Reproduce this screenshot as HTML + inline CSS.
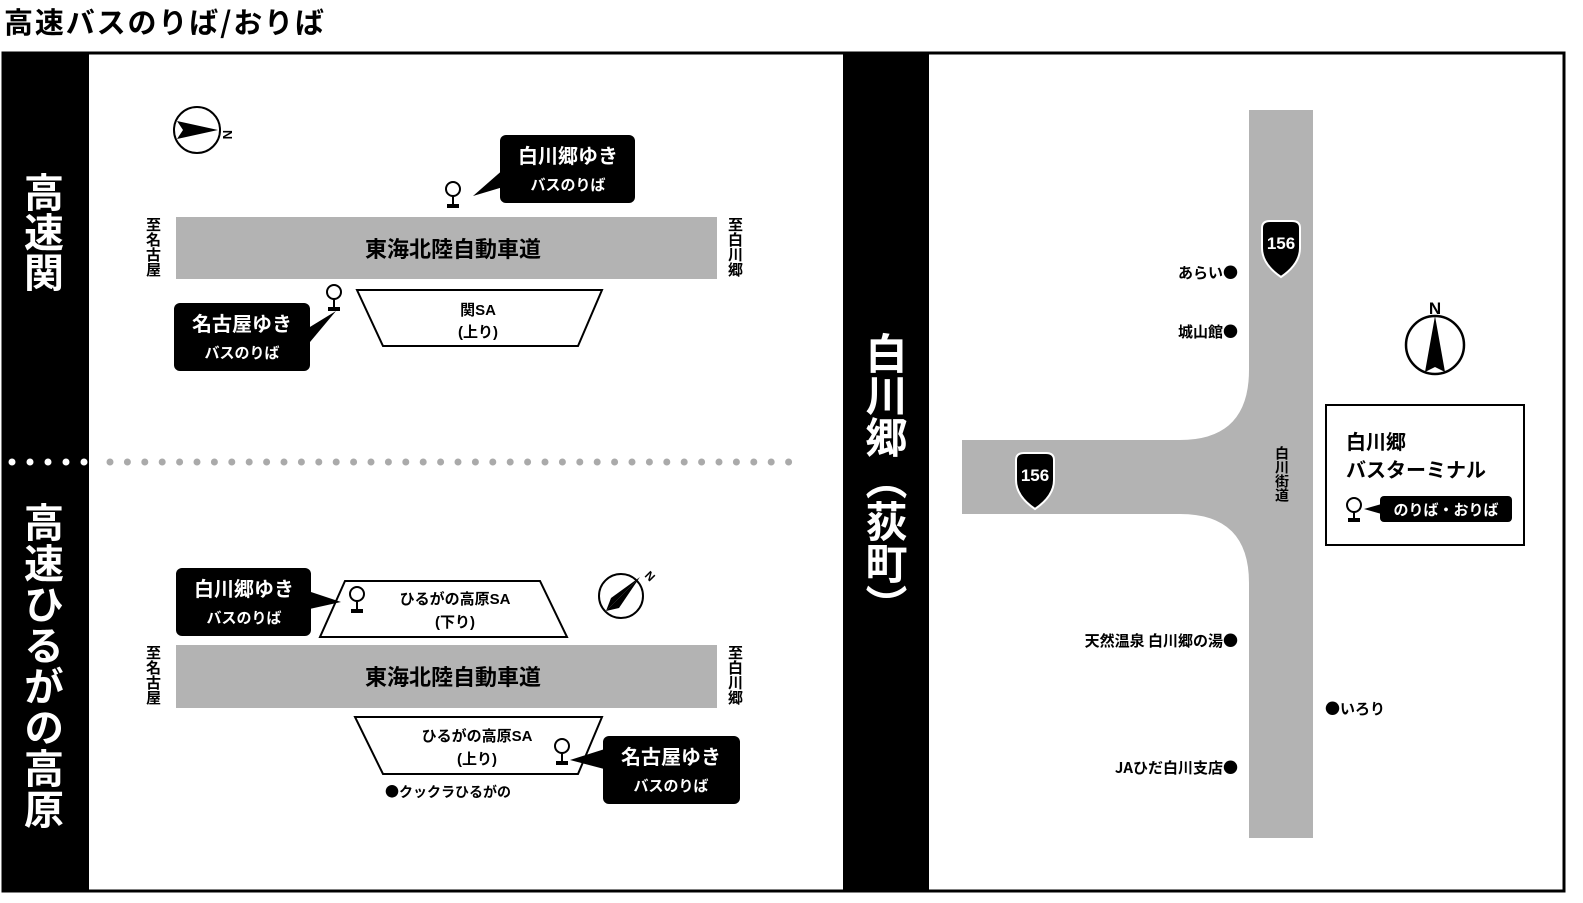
<!DOCTYPE html>
<html><head><meta charset="utf-8"><style>
body{margin:0;background:#fff;width:1583px;height:903px;overflow:hidden;position:relative;font-family:"Liberation Sans","Noto Sans CJK JP",sans-serif;font-weight:bold}
.v{position:absolute;writing-mode:vertical-rl;text-orientation:mixed;font-weight:bold;line-height:1;font-family:"Noto Sans CJK JP",sans-serif}
svg{position:absolute;left:0;top:0}
</style></head><body>
<svg width="1583" height="903" viewBox="0 0 1583 903" font-family="Liberation Sans, Noto Sans CJK JP, sans-serif" font-weight="bold">
<text x="4" y="33" font-size="29" font-family="Noto Sans CJK JP, sans-serif" textLength="320">高速バスのりば/おりば</text>
<rect x="3" y="53" width="1561" height="838" fill="none" stroke="#000" stroke-width="3"/>
<rect x="2" y="52" width="87" height="840" fill="#000"/>
<rect x="843" y="52" width="86" height="840" fill="#000"/>
<g fill="#fff"><circle cx="12" cy="462" r="3.5"/><circle cx="30" cy="462" r="3.5"/><circle cx="48" cy="462" r="3.5"/><circle cx="66" cy="462" r="3.5"/><circle cx="84" cy="462" r="3.5"/></g>
<line x1="110" y1="462" x2="805" y2="462" stroke="#aaa" stroke-width="7" stroke-linecap="round" stroke-dasharray="0 17.4"/>
<!-- upper -->
<rect x="176" y="217" width="541" height="62" fill="#b3b3b3"/>
<text x="453" y="257" font-size="22" text-anchor="middle">東海北陸自動車道</text>
<polygon points="357,290 602,290 578,346 383,346" fill="#fff" stroke="#000" stroke-width="2"/>
<text x="478" y="315" font-size="15" text-anchor="middle">関SA</text>
<text x="478" y="337" font-size="15" text-anchor="middle">(上り)</text>
<circle cx="197" cy="130" r="23" fill="none" stroke="#000" stroke-width="2"/>
<polygon points="177,121 218,130 177,139 183,130" fill="#000"/>
<text x="223" y="130" font-size="13" transform="rotate(90 223 130)">N</text>
<!-- lower -->
<polygon points="345,581 540,581 567,637 320,637" fill="#fff" stroke="#000" stroke-width="2"/>
<text x="455" y="604" font-size="15" text-anchor="middle">ひるがの高原SA</text>
<text x="455" y="627" font-size="15" text-anchor="middle">(下り)</text>
<rect x="176" y="645" width="541" height="63" fill="#b3b3b3"/>
<text x="453" y="685" font-size="22" text-anchor="middle">東海北陸自動車道</text>
<polygon points="355,717 602,717 578,774 383,774" fill="#fff" stroke="#000" stroke-width="2"/>
<text x="477" y="741" font-size="15" text-anchor="middle">ひるがの高原SA</text>
<text x="477" y="764" font-size="15" text-anchor="middle">(上り)</text>
<text x="385" y="797" font-size="14" font-family="Noto Sans CJK JP, sans-serif">●クックラひるがの</text>
<circle cx="621" cy="596" r="22" fill="none" stroke="#000" stroke-width="2"/>
<polygon points="640,577 606,611 619,608" fill="#000"/>
<polygon points="640,577 606,611 611,598" fill="#000"/>
<text x="644" y="576" font-size="12" transform="rotate(45 644 576)">N</text>
<!-- right panel -->
<path d="M1249,110 H1313 V838 H1249 V583 Q1249,514 1180,514 H962 V440 H1180 Q1249,440 1249,370 Z" fill="#b3b3b3"/>
<path d="M1262,228 Q1262,221 1270,221 H1292 Q1300,221 1300,228 V248 Q1300,264 1281,277 Q1262,264 1262,248 Z" fill="#000" stroke="#fff" stroke-width="2"/>
<text x="1281" y="249" font-size="17" fill="#fff" text-anchor="middle">156</text>
<path d="M1016,460 Q1016,453 1024,453 H1046 Q1054,453 1054,460 V480 Q1054,496 1035,509 Q1016,496 1016,480 Z" fill="#000" stroke="#fff" stroke-width="2"/>
<text x="1035" y="481" font-size="17" fill="#fff" text-anchor="middle">156</text>
<g font-size="15" text-anchor="end" font-family="Noto Sans CJK JP, sans-serif">
<text x="1238" y="278">あらい●</text>
<text x="1238" y="337">城山館●</text>
<text x="1238" y="646">天然温泉 白川郷の湯●</text>
<text x="1238" y="773">JAひだ白川支店●</text>
</g>
<text x="1325" y="714" font-size="15" font-family="Noto Sans CJK JP, sans-serif">●いろり</text>
<circle cx="1435" cy="345" r="29" fill="none" stroke="#000" stroke-width="2.5"/>
<polygon points="1435,316 1425,372 1435,367 1445,372" fill="#000"/>
<text x="1435" y="314" font-size="17" text-anchor="middle">N</text>
<rect x="1326" y="405" width="198" height="140" fill="#fff" stroke="#000" stroke-width="2"/>
<text x="1346" y="449" font-size="20" font-family="Noto Sans CJK JP, sans-serif">白川郷</text>
<text x="1346" y="477" font-size="20" font-family="Noto Sans CJK JP, sans-serif">バスターミナル</text>
<!-- pins -->
<g fill="none" stroke="#000" stroke-width="2">
<circle cx="453" cy="189" r="7"/><line x1="453" y1="196" x2="453" y2="205"/>
<circle cx="334" cy="292" r="7"/><line x1="334" y1="299" x2="334" y2="308"/>
<circle cx="357" cy="594" r="7"/><line x1="357" y1="601" x2="357" y2="610"/>
<circle cx="562" cy="746" r="7"/><line x1="562" y1="753" x2="562" y2="762"/>
<circle cx="1354" cy="505" r="7"/><line x1="1354" y1="512" x2="1354" y2="520"/>
</g>
<g fill="#000"><rect x="447" y="204" width="12" height="4"/><rect x="328" y="307" width="12" height="4"/><rect x="351" y="609" width="12" height="4"/><rect x="556" y="761" width="12" height="4"/><rect x="1348" y="518" width="12" height="4"/></g>
<!-- callouts -->
<g fill="#000">
<rect x="500" y="135" width="135" height="68" rx="6"/><polygon points="473,196 505,168 510,185"/>
<rect x="174" y="303" width="136" height="68" rx="6"/><polygon points="336,311 305,330 305,348"/>
<rect x="176" y="568" width="135" height="68" rx="6"/><polygon points="341,602 305,590 305,610"/>
<rect x="603" y="736" width="137" height="68" rx="6"/><polygon points="570,760 608,748 608,770"/>
<rect x="1380" y="496" width="132" height="26" rx="4"/><polygon points="1364,509 1385,503 1385,515"/>
</g>
<g fill="#fff" text-anchor="middle" font-family="Noto Sans CJK JP, sans-serif">
<text x="568" y="163" font-size="20">白川郷ゆき</text><text x="568" y="190" font-size="15">バスのりば</text>
<text x="242" y="331" font-size="20">名古屋ゆき</text><text x="242" y="358" font-size="15">バスのりば</text>
<text x="244" y="596" font-size="20">白川郷ゆき</text><text x="244" y="623" font-size="15">バスのりば</text>
<text x="671" y="764" font-size="20">名古屋ゆき</text><text x="671" y="791" font-size="15">バスのりば</text>
<text x="1446" y="515" font-size="15">のりば・おりば</text>
</g>
</svg>
<div class="v" style="left:145px;top:217px;font-size:15px;line-height:16px">至名古屋</div>
<div class="v" style="left:727px;top:217px;font-size:15px;line-height:16px">至白川郷</div>
<div class="v" style="left:145px;top:645px;font-size:15px;line-height:16px">至名古屋</div>
<div class="v" style="left:727px;top:645px;font-size:15px;line-height:16px">至白川郷</div>
<div class="v" style="left:1274px;top:446px;font-size:14px;line-height:16px">白川街道</div>
<div class="v" style="left:23px;top:172px;font-size:40px;color:#fff;line-height:42px">高速関</div>
<div class="v" style="left:23px;top:502px;font-size:40px;color:#fff;line-height:42px;letter-spacing:1px">高速ひるがの高原</div>
<div class="v" style="left:864px;top:332px;font-size:42px;color:#fff;line-height:44px">白川郷（荻町）</div>
</body></html>
